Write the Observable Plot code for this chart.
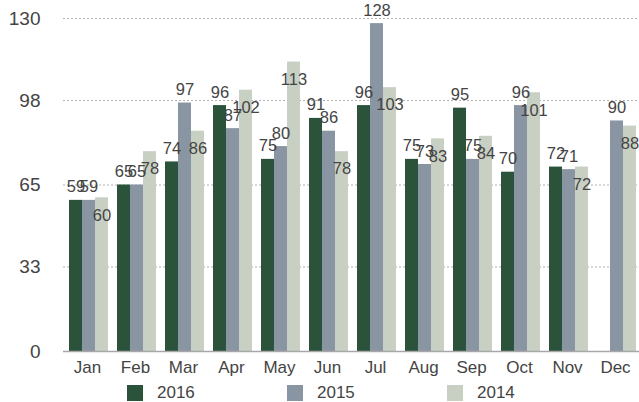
<!DOCTYPE html>
<html>
<head>
<meta charset="utf-8">
<script src="https://cdn.jsdelivr.net/npm/d3@7"></script>
<script src="https://cdn.jsdelivr.net/npm/@observablehq/plot@0.6"></script>
<style>
  html, body { margin: 0; padding: 0; background: #fff; }
  body { width: 639px; height: 402px; overflow: hidden; font-family: "Liberation Sans", Arial, sans-serif; }
  #legend { position: relative; width: 639px; height: 24px; }
  .item { position: absolute; top: 7px; height: 16px; line-height: 16px; display: flex; align-items: center; font-size: 17px; color: #444; }
  .sw { width: 16px; height: 16px; margin-right: 14px; }
</style>
</head>
<body>
<div id="chart"></div>
<div id="legend"></div>
<script>
const months = ["Jan","Feb","Mar","Apr","May","Jun","Jul","Aug","Sep","Oct","Nov","Dec"];
const years = ["2016","2015","2014"];
const colors = ["#2b523b","#8a95a3","#c8cfc3"];
const v2016 = [59,65,74,96,75,91,96,75,95,70,72,null];
const v2015 = [59,65,97,87,80,86,128,73,75,96,71,90];
const v2014 = [60,78,86,102,113,78,103,83,84,101,72,88];
const yTicks = [0,33,65,98,130];

const series = {"2016": v2016, "2015": v2015, "2014": v2014};
const data = months.flatMap((m, i) => years.map(y => ({month: m, year: y, value: series[y][i]})))
  .filter(d => d.value != null);

const textColor = "#444";

const plot = Plot.plot({
  width: 639,
  height: 378,
  marginLeft: 63,
  marginRight: 0,
  marginTop: 18,
  marginBottom: 27,
  style: {fontFamily: "'Liberation Sans', Arial, sans-serif", background: "#fff"},
  fx: {domain: months, padding: 0, label: null, axis: null},
  x: {domain: years, paddingInner: 0, paddingOuter: 0.256, align: 0.7, axis: null},
  y: {domain: [0, 130], label: null},
  color: {domain: years, range: colors},
  marks: [
    Plot.gridY(yTicks, {stroke: "#b0b0b0", strokeOpacity: 1, strokeDasharray: "2,2", strokeWidth: 1}),
    Plot.barY(data, {fx: "month", x: "year", y: "value", fill: "year"}),
    Plot.ruleY([0], {stroke: "#a8a8a8", strokeWidth: 1.5}),
    Plot.axisY(yTicks, {tickSize: 0, tickPadding: 23, fontSize: 19, fill: textColor, label: null}),
    Plot.axisFx({anchor: "bottom", tickSize: 0, tickPadding: 9, fontSize: 17, fill: textColor, label: null}),
    Plot.text(data.filter(d => d.year !== "2014"), {fx: "month", x: "year", y: "value", text: "value", lineAnchor: "bottom", dy: -8, fontSize: 16.5, fill: textColor}),
    Plot.text(data.filter(d => d.year === "2014"), {fx: "month", x: "year", y: "value", text: "value", lineAnchor: "top", dy: 11, fontSize: 16.5, fill: textColor})
  ]
});
document.getElementById("chart").appendChild(plot);

const legend = document.getElementById("legend");
years.forEach((y, i) => {
  const item = document.createElement("div");
  item.className = "item";
  item.style.left = (127 + 160 * i) + "px";
  const sw = document.createElement("span");
  sw.className = "sw";
  sw.style.background = colors[i];
  const label = document.createElement("span");
  label.textContent = y;
  item.appendChild(sw);
  item.appendChild(label);
  legend.appendChild(item);
});
</script>
</body>
</html>
